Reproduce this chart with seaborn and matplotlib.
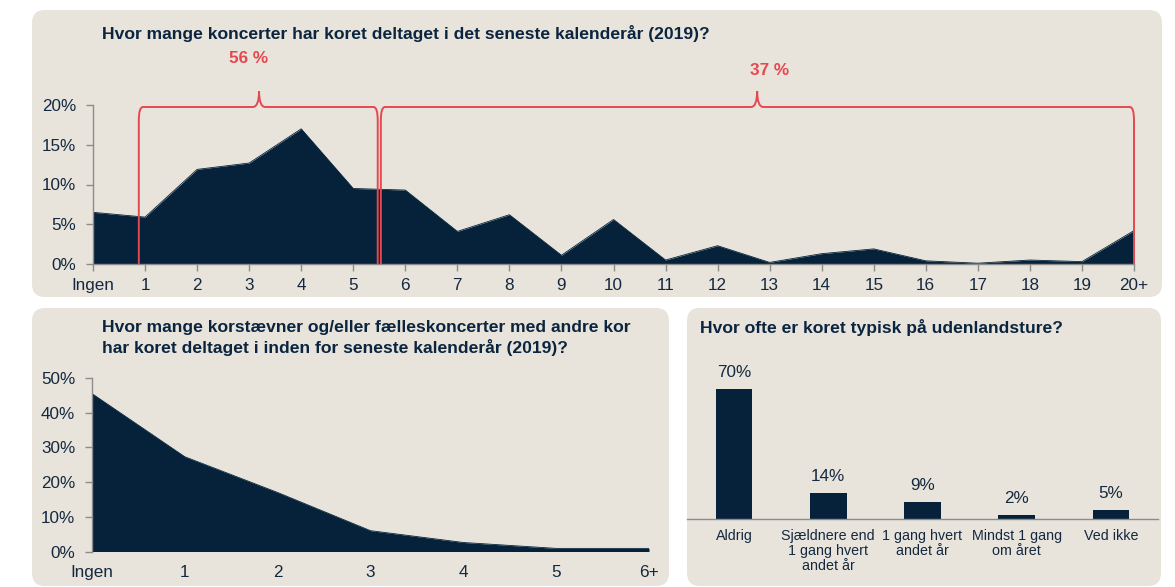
import numpy as np
import pandas as pd
import matplotlib
matplotlib.use("Agg")
import matplotlib.pyplot as plt
import seaborn as sns
from matplotlib.patches import FancyBboxPatch, PathPatch
from matplotlib.path import Path

# ---------------- data ----------------
concert_labels = ["Ingen"] + [str(i) for i in range(1, 20)] + ["20+"]
concert_share = [6.5, 5.9, 11.9, 12.7, 17.0, 9.5, 9.3, 4.1, 6.2, 1.1, 5.6,
                 0.5, 2.3, 0.2, 1.3, 1.9, 0.4, 0.1, 0.5, 0.3, 4.2]
bracket_texts = ["56 %", "37 %"]

joint_labels = ["Ingen", "1", "2", "3", "4", "5", "6+"]
joint_share = [45.5, 27.3, 17.0, 6.0, 2.6, 0.9, 0.9]

trip_labels = ["Aldrig", "Sjældnere end\n1 gang hvert\nandet år", "1 gang hvert\nandet år",
               "Mindst 1 gang\nom året", "Ved ikke"]
trip_share = [70, 14, 9, 2, 5]

title_top = "Hvor mange koncerter har koret deltaget i det seneste kalenderår (2019)?"
title_left = "Hvor mange korstævner og/eller fælleskoncerter med andre kor\nhar koret deltaget i inden for seneste kalenderår (2019)?"
title_right = "Hvor ofte er koret typisk på udenlandsture?"

# ---------------- style ----------------
NAVY = "#05223A"
BEIGE = "#E8E4DB"
RED = "#E5484F"
TEXT = "#142840"
TITLE = "#0B2540"
GREY = "#8C8C8C"

sns.set_theme(style="white")
plt.rcParams['font.family'] = ['Liberation Sans', 'DejaVu Sans']

W, H = 1175, 587
fig = plt.figure(figsize=(W / 100, H / 100), dpi=100, facecolor="white")


def px_axes(x0, x1, ytop, ybot):
    ax = fig.add_axes([x0 / W, (H - ybot) / H, (x1 - x0) / W, (ybot - ytop) / H])
    ax.set_facecolor("none")
    return ax


def panel(x0, x1, ytop, ybot, r=13):
    p = FancyBboxPatch((x0 / 100, (H - ybot) / 100), (x1 - x0) / 100, (ybot - ytop) / 100,
                       boxstyle=f"round,pad=0,rounding_size={r / 100}",
                       transform=fig.dpi_scale_trans, facecolor=BEIGE, edgecolor="none",
                       zorder=-5)
    fig.add_artist(p)


panel(32, 1162, 10, 297)
panel(32, 669, 308, 586)
panel(687, 1161, 308, 586)


def style_axes(ax, ticklen_x=5):
    for s in ["top", "right"]:
        ax.spines[s].set_visible(False)
    for s in ["left", "bottom"]:
        ax.spines[s].set_color(GREY)
        ax.spines[s].set_linewidth(1.0)
    ax.tick_params(axis="y", direction="out", length=5, width=1, color=GREY,
                   labelsize=12.3, labelcolor=TEXT, pad=7, left=True)
    ax.tick_params(axis="x", direction="out", length=ticklen_x, width=1, color=GREY,
                   labelsize=12.3, labelcolor=TEXT, pad=5, bottom=True)
    ax.grid(False)


# ---------------- top chart ----------------
ax1 = px_axes(93, 1134, 105, 264)
x1 = np.arange(len(concert_labels))
df1 = pd.DataFrame({"x": x1, "share": concert_share})
ax1.fill_between(df1["x"], df1["share"], color=NAVY, lw=0, zorder=2)
sns.lineplot(data=df1, x="x", y="share", color=NAVY, lw=0.6, ax=ax1, zorder=2)
ax1.set_xlim(0, len(concert_labels) - 1)
ax1.set_ylim(0, 20)
ax1.set_xticks(x1)
ax1.set_xticklabels(concert_labels)
ax1.set_yticks([0, 5, 10, 15, 20])
ax1.set_yticklabels([f"{v}%" for v in [0, 5, 10, 15, 20]])
ax1.set_xlabel("")
ax1.set_ylabel("")
style_axes(ax1)


def brace(ax, xa, xb, xp, yh, yp, dx=0.08, dy=1.7, dxp=0.12):
    M, L, C = Path.MOVETO, Path.LINETO, Path.CURVE3
    verts = [(xa, 0), (xa, yh - dy), (xa, yh), (xa + dx, yh),
             (xp - dxp, yh), (xp, yh), (xp, yp), (xp, yh), (xp + dxp, yh),
             (xb - dx, yh), (xb, yh), (xb, yh - dy), (xb, 0)]
    codes = [M, L, C, C, L, C, C, C, C, L, C, C, L]
    patch = PathPatch(Path(verts, codes), facecolor="none", edgecolor=RED, lw=1.4,
                      clip_on=False, zorder=4)
    ax.add_patch(patch)


brace(ax1, 0.88, 5.47, 3.19, 19.75, 21.75)
brace(ax1, 5.53, 20.0, 12.76, 19.75, 21.75)
ax1.text(2.98, 25.9, bracket_texts[0], color=RED, fontsize=12.3, fontweight="bold",
         ha="center", va="center", clip_on=False)
ax1.text(13.0, 24.4, bracket_texts[1], color=RED, fontsize=12.3, fontweight="bold",
         ha="center", va="center", clip_on=False)

fig.text(102 / W, 1 - 33 / H, title_top, color=TITLE, fontsize=12.6, fontweight="bold",
         ha="left", va="center")

# ---------------- bottom-left chart ----------------
ax2 = px_axes(92, 649, 378, 551.5)
x2 = np.arange(len(joint_labels))
df2 = pd.DataFrame({"x": x2, "share": joint_share})
ax2.fill_between(df2["x"], df2["share"], color=NAVY, lw=0, zorder=2)
sns.lineplot(data=df2, x="x", y="share", color=NAVY, lw=0.6, ax=ax2, zorder=2)
ax2.set_xlim(0, len(joint_labels) - 1)
ax2.set_ylim(0, 50)
ax2.set_xticks(x2)
ax2.set_xticklabels(joint_labels)
ax2.set_yticks([0, 10, 20, 30, 40, 50])
ax2.set_yticklabels([f"{v}%" for v in [0, 10, 20, 30, 40, 50]])
ax2.set_xlabel("")
ax2.set_ylabel("")
style_axes(ax2, ticklen_x=0)
ax2.tick_params(axis="x", pad=10)
ax2.spines["bottom"].set_visible(False)

fig.text(102 / W, 1 - 338 / H, title_left, color=TITLE, fontsize=12.6, fontweight="bold",
         ha="left", va="center", linespacing=1.25)

# ---------------- bottom-right chart ----------------
ax3 = px_axes(687, 1158, 360, 519)
df3 = pd.DataFrame({"cat": trip_labels, "share": trip_share})
sns.barplot(data=df3, x="cat", y="share", order=trip_labels, color=NAVY, saturation=1,
            width=0.39, ax=ax3, zorder=2, edgecolor=NAVY, linewidth=0)
ax3.set_xlim(-0.5, len(trip_labels) - 0.5)
ax3.set_ylim(0, 85.6)
ax3.set_xlabel("")
ax3.set_ylabel("")
for s in ["top", "right", "left"]:
    ax3.spines[s].set_visible(False)
ax3.spines["bottom"].set_color(GREY)
ax3.spines["bottom"].set_linewidth(1.0)
ax3.spines["bottom"].set_zorder(3)
ax3.set_yticks([])
ax3.tick_params(axis="x", length=0, pad=7, labelsize=10.3, labelcolor=TEXT)
for lbl in ax3.get_xticklabels():
    lbl.set_linespacing(1.1)
for i, v in enumerate(trip_share):
    ax3.annotate(f"{v}%", (i, v), xytext=(0, 12), textcoords="offset points",
                 ha="center", va="center", fontsize=12.3, color=TEXT)

fig.text(700 / W, 1 - 328 / H, title_right, color=TITLE, fontsize=12.6, fontweight="bold",
         ha="left", va="center")

fig.savefig("out.png", dpi=100, facecolor="white")
